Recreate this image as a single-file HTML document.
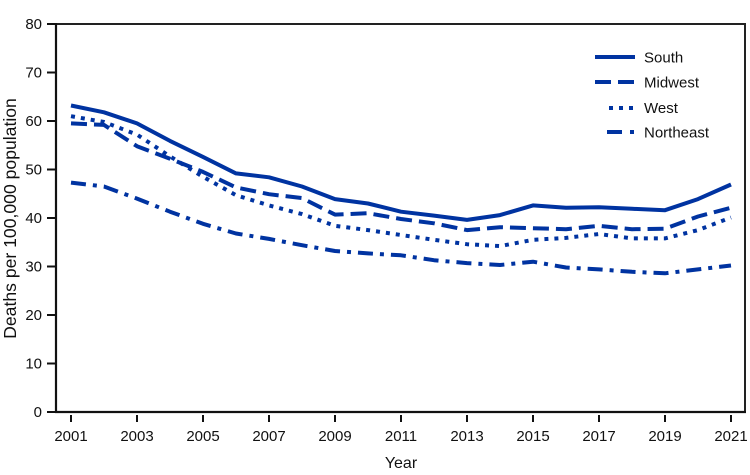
<!DOCTYPE html>
<html>
<head>
<meta charset="utf-8">
<style>
  html, body { margin: 0; padding: 0; background: #ffffff; }
  svg { display: block; }
  text { font-family: "Liberation Sans", sans-serif; fill: #111; }
</style>
</head>
<body>
<svg width="750" height="475" viewBox="0 0 750 475" xmlns="http://www.w3.org/2000/svg">
  <rect x="0" y="0" width="750" height="475" fill="#fff"/>

  <!-- frame -->
  <polyline points="56,24 745,24 745,412" fill="none" stroke="#222" stroke-width="2"/>
  <line x1="56" y1="23" x2="56" y2="413" stroke="#111" stroke-width="2.2"/>
  <line x1="55" y1="412" x2="746" y2="412" stroke="#111" stroke-width="2.2"/>

  <!-- y ticks -->
  <g stroke="#111" stroke-width="2">
    <line x1="47" y1="412" x2="55" y2="412"/>
    <line x1="47" y1="363.5" x2="55" y2="363.5"/>
    <line x1="47" y1="315" x2="55" y2="315"/>
    <line x1="47" y1="266.5" x2="55" y2="266.5"/>
    <line x1="47" y1="218" x2="55" y2="218"/>
    <line x1="47" y1="169.5" x2="55" y2="169.5"/>
    <line x1="47" y1="121" x2="55" y2="121"/>
    <line x1="47" y1="72.5" x2="55" y2="72.5"/>
    <line x1="47" y1="24" x2="55" y2="24"/>
  </g>
  <g font-size="15" text-anchor="end">
    <text x="42" y="417">0</text>
    <text x="42" y="368.5">10</text>
    <text x="42" y="320">20</text>
    <text x="42" y="271.5">30</text>
    <text x="42" y="223">40</text>
    <text x="42" y="174.5">50</text>
    <text x="42" y="126">60</text>
    <text x="42" y="77.5">70</text>
    <text x="42" y="29">80</text>
  </g>

  <!-- x ticks -->
  <g stroke="#111" stroke-width="2">
    <line x1="71" y1="415" x2="71" y2="422"/>
    <line x1="137" y1="415" x2="137" y2="422"/>
    <line x1="203" y1="415" x2="203" y2="422"/>
    <line x1="269" y1="415" x2="269" y2="422"/>
    <line x1="335" y1="415" x2="335" y2="422"/>
    <line x1="401" y1="415" x2="401" y2="422"/>
    <line x1="467" y1="415" x2="467" y2="422"/>
    <line x1="533" y1="415" x2="533" y2="422"/>
    <line x1="599" y1="415" x2="599" y2="422"/>
    <line x1="665" y1="415" x2="665" y2="422"/>
    <line x1="731" y1="415" x2="731" y2="422"/>
  </g>
  <g font-size="15" text-anchor="middle">
    <text x="71" y="441">2001</text>
    <text x="137" y="441">2003</text>
    <text x="203" y="441">2005</text>
    <text x="269" y="441">2007</text>
    <text x="335" y="441">2009</text>
    <text x="401" y="441">2011</text>
    <text x="467" y="441">2013</text>
    <text x="533" y="441">2015</text>
    <text x="599" y="441">2017</text>
    <text x="665" y="441">2019</text>
    <text x="731" y="441">2021</text>
  </g>

  <!-- axis titles -->
  <text x="401" y="468" font-size="16" text-anchor="middle">Year</text>
  <text transform="translate(16,218.5) rotate(-90)" font-size="17.6" text-anchor="middle">Deaths per 100,000 population</text>

  <!-- series -->
  <g fill="none" stroke="#0033a1" stroke-width="4" stroke-linejoin="round">
    <!-- South solid -->
    <polyline points="71,105.5 104,112.3 137,123.4 170,140.9 203,156.9 236,173.4 269,177.3 302,186.5 335,199.1 368,203.5 401,211.7 434,215.6 467,219.9 500,215.1 533,205.4 566,207.8 599,207.3 632,208.8 665,210.2 698,199.1 731,184.5"/>
    <!-- Midwest dashed -->
    <polyline stroke-dasharray="16 7" points="71,123.4 104,124.9 137,146.2 170,158.8 203,171.9 236,187.4 269,194.2 302,198.1 335,214.6 368,213.2 401,219.0 434,223.3 467,230.1 500,227.2 533,228.2 566,229.2 599,225.8 632,229.2 665,228.7 698,216.5 731,207.8"/>
    <!-- West dotted -->
    <polyline stroke-dasharray="4 6" points="71,116.2 104,122.0 137,134.6 170,156.4 203,176.8 236,195.2 269,205.4 302,214.1 335,225.8 368,230.1 401,235.0 434,239.8 467,244.2 500,246.1 533,239.8 566,237.9 599,234.0 632,238.4 665,238.4 698,230.1 731,217.5"/>
    <!-- Northeast dash-dot -->
    <polyline stroke-dasharray="15 7 4 7" points="71,182.6 104,186.5 137,198.6 170,211.7 203,223.8 236,233.5 269,238.9 302,245.2 335,251.0 368,253.4 401,255.3 434,260.2 467,263.1 500,265.0 533,261.7 566,267.5 599,269.4 632,271.8 665,273.3 698,269.4 731,265.5"/>
  </g>

  <!-- legend -->
  <g fill="none" stroke="#0033a1" stroke-width="4">
    <line x1="595" y1="57" x2="635" y2="57"/>
    <line x1="595" y1="82" x2="611" y2="82"/>
    <line x1="618" y1="82" x2="634" y2="82"/>
    <line x1="609" y1="108" x2="613" y2="108"/>
    <line x1="619" y1="108" x2="623" y2="108"/>
    <line x1="629" y1="108" x2="633" y2="108"/>
    <line x1="607" y1="132" x2="622" y2="132"/>
    <line x1="630" y1="132" x2="634" y2="132"/>
  </g>
  <g font-size="15">
    <text x="644" y="62.5">South</text>
    <text x="644" y="87.5">Midwest</text>
    <text x="644" y="113">West</text>
    <text x="644" y="137.5">Northeast</text>
  </g>
</svg>
</body>
</html>
